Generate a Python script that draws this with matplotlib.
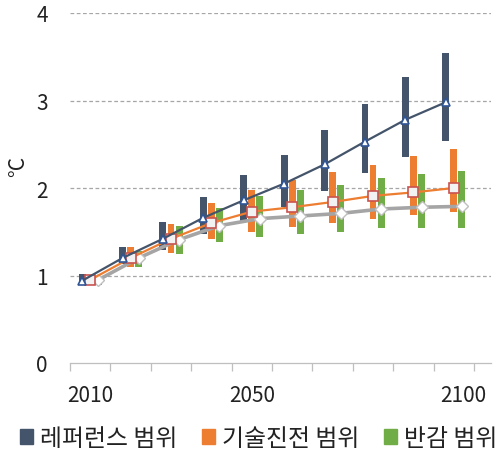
import matplotlib
matplotlib.use('Agg')
import matplotlib.pyplot as plt
from matplotlib.patches import Patch
import numpy as np

plt.rcParams['font.family'] = ['Noto Sans CJK KR', 'DejaVu Sans']

years = [2010, 2020, 2030, 2040, 2050, 2060, 2070, 2080, 2090, 2100]
tick_years = ['2010', '2050', '2100']

# 레퍼런스 (reference scenario)
ref_low = [0.89, 1.13, 1.29, 1.47, 1.61, 1.78, 1.97, 2.17, 2.35, 2.54]
ref_high = [1.02, 1.33, 1.61, 1.90, 2.15, 2.38, 2.66, 2.96, 3.27, 3.54]
ref_mid = [0.94, 1.20, 1.42, 1.66, 1.86, 2.05, 2.27, 2.53, 2.78, 2.98]
# 기술진전 (technology progress)
tech_low = [0.89, 1.10, 1.26, 1.42, 1.50, 1.55, 1.60, 1.65, 1.69, 1.73]
tech_high = [1.00, 1.33, 1.59, 1.83, 1.98, 2.09, 2.18, 2.26, 2.37, 2.45]
tech_mid = [0.95, 1.20, 1.42, 1.60, 1.73, 1.78, 1.84, 1.91, 1.95, 2.00]
# 반감 (halving)
half_low = [0.89, 1.10, 1.25, 1.38, 1.44, 1.47, 1.50, 1.54, 1.54, 1.54]
half_high = [0.98, 1.28, 1.57, 1.77, 1.91, 1.98, 2.03, 2.11, 2.16, 2.19]
half_mid = [0.95, 1.20, 1.41, 1.57, 1.65, 1.68, 1.71, 1.76, 1.78, 1.79]

labels = ['레퍼런스 범위', '기술진전 범위', '반감 범위']
c_ref, c_tech, c_half = '#44546A', '#ED7D31', '#70AD47'

fig = plt.figure(figsize=(5.02, 4.52), dpi=100)
ax = fig.add_axes([70 / 502, 88 / 452, 421 / 502, 350 / 452])

x = np.arange(len(years)) + 0.5
off, w = 0.2, 0.17

def span(pos, lo, hi, color):
    lo = np.array(lo)
    hi = np.array(hi)
    ax.bar(pos, hi - lo, bottom=lo, width=w, color=color, edgecolor='none', zorder=2)

span(x - off, ref_low, ref_high, c_ref)
span(x, tech_low, tech_high, c_tech)
span(x + off, half_low, half_high, c_half)

ax.plot(x + off, half_mid, color='#A5A5A5', lw=2.6, marker='D', ms=6.5,
        mfc='white', mec='#BFBFBF', mew=1, zorder=3)
ax.plot(x, tech_mid, color=c_tech, lw=1.6, marker='s', ms=7.5,
        mfc='#F2F2F2', mec='#C9534F', mew=1.2, zorder=4)
ax.plot(x - off, ref_mid, color=c_ref, lw=1.6, marker='^', ms=6,
        mfc='white', mec='#2F5597', mew=1.2, zorder=5)

ax.set_ylim(0, 4)
ax.set_xlim(0, 10.42)
ax.set_yticks([0, 1, 2, 3, 4])
for v in [1, 2, 3, 4]:
    ax.axhline(v, color='#A6A6A6', lw=0.9, ls=(0, (3, 2)), zorder=1)

ax.set_xticks([0.5, 4.5, 9.73], tick_years)
ax.set_xticks(np.arange(0, 11), minor=True)
ax.tick_params(axis='x', which='major', length=0, pad=15, labelsize=15, labelcolor='#222222')
ax.tick_params(axis='x', which='minor', length=5.5, width=0.9, color='#BFBFBF')
ax.tick_params(axis='y', length=0, pad=16, labelsize=15, labelcolor='#222222')

for s in ['left', 'right', 'top']:
    ax.spines[s].set_visible(False)
ax.spines['bottom'].set_color('#BFBFBF')
ax.spines['bottom'].set_linewidth(0.9)

ax.set_ylabel('°C', fontsize=15, color='#222222')
ax.yaxis.set_label_coords(-0.098, 0.563)

handles = [Patch(color=c) for c in (c_ref, c_tech, c_half)]
fig.legend(handles, labels, loc='lower left', bbox_to_anchor=(20 / 502, 1 / 452),
           ncol=3, frameon=False, fontsize=17.2, handlelength=0.55, handleheight=0.55,
           handletextpad=0.3, columnspacing=1.02, borderpad=0, borderaxespad=0,
           labelcolor='#222222')

fig.savefig('out.png', dpi=100)
